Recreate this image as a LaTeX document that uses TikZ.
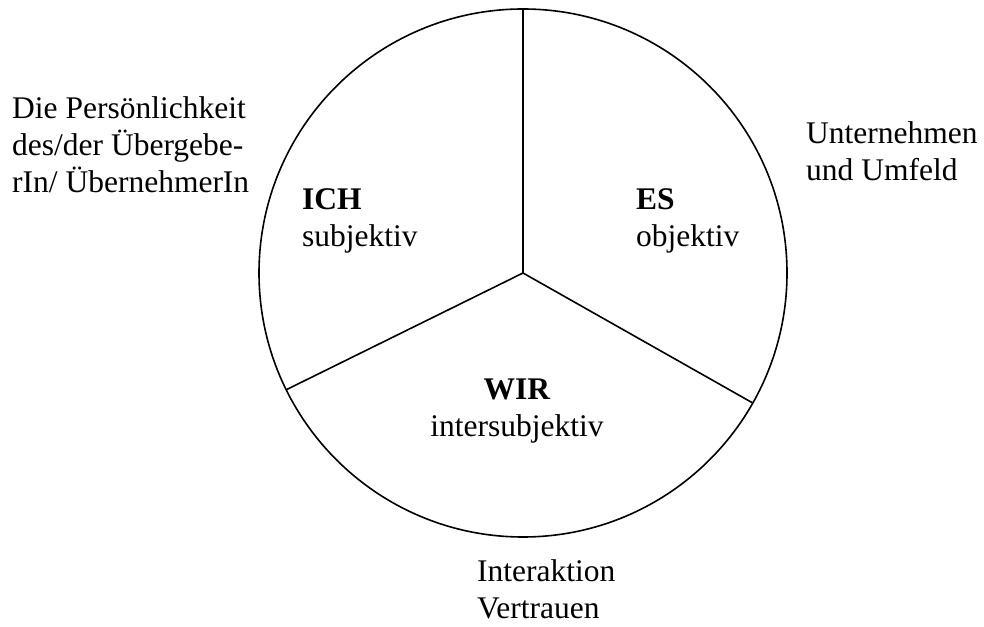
\documentclass[tikz,border=0pt]{standalone}
\usepackage{fontspec}
\setmainfont{Liberation Serif}
\usetikzlibrary{calc}

\begin{document}
\begin{tikzpicture}[x=1pt, y=1pt,
    linestyle/.style={black, line width=1.6pt},
    labelstyle/.style={inner sep=0pt, align=left, anchor=base west,
      font=\fontsize{31.5}{37}\selectfont},
    centerlabel/.style={labelstyle, align=center, anchor=base}]
  \useasboundingbox (0,0) rectangle (984,626);
  \coordinate (C) at (523,353);
  \draw[linestyle] (C) circle (264);
  \coordinate (Top) at ($(C)+(90:264)$);
  \coordinate (Left) at ($(C)+(206.25:264)$);
  \coordinate (Right) at ($(C)+(330.5:264)$);
  \draw[linestyle] (C) -- (Top);
  \draw[linestyle] (C) -- (Left);
  \draw[linestyle] (C) -- (Right);
  % base anchor sits on the last line
  \node[labelstyle] (ich) at (302,379.7) {\textbf{ICH}\\subjektiv};
  \node[labelstyle] (es) at (636,379.7) {\textbf{ES}\\objektiv};
  \node[centerlabel] (wir) at (517,189.3) {\textbf{WIR}\\intersubjektiv};
  \node[labelstyle] (person) at (12,433.3) {Die Persönlichkeit\\des/der Übergebe-\\rIn/ ÜbernehmerIn};
  \node[labelstyle] (firma) at (806,445) {Unternehmen\\und Umfeld};
  \node[labelstyle] (vertrauen) at (477,7.7) {Interaktion\\Vertrauen};
\end{tikzpicture}
\end{document}
